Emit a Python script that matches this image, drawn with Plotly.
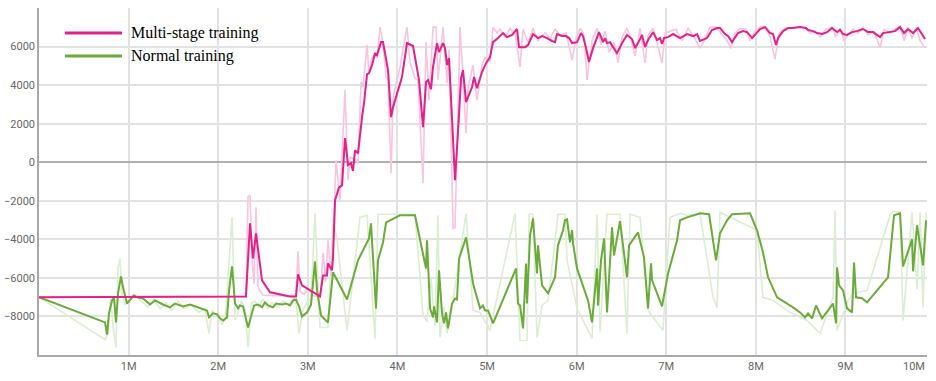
import plotly.graph_objects as go

# ---------------- data (x in millions of steps) ----------------
ms_x = [0, 1.0, 2.0, 2.31, 2.355, 2.388, 2.422, 2.489, 2.578, 2.801, 2.868, 2.891, 2.935, 3.025, 3.080,
        3.136, 3.170, 3.214, 3.225, 3.270, 3.281, 3.304, 3.348, 3.382, 3.415, 3.449, 3.482, 3.504, 3.527,
        3.560, 3.605, 3.627, 3.661, 3.683, 3.717, 3.750, 3.772, 3.817, 3.839, 3.895, 3.929, 3.951, 4.051,
        4.107, 4.174, 4.208, 4.241, 4.286, 4.319, 4.342, 4.375, 4.397, 4.442, 4.464, 4.509, 4.531, 4.554,
        4.576, 4.643, 4.688, 4.710, 4.732, 4.766, 4.788, 4.833, 4.855, 4.888, 4.944, 4.989, 5.033, 5.067,
        5.123, 5.179, 5.223, 5.279, 5.335, 5.357, 5.424, 5.458, 5.513, 5.569, 5.614, 5.670, 5.725, 5.759,
        5.781, 5.837, 5.882, 5.915, 5.949, 6.004, 6.049, 6.071, 6.105, 6.138, 6.183, 6.250, 6.295, 6.317,
        6.339, 6.373, 6.406, 6.451, 6.507, 6.562, 6.618, 6.652, 6.685, 6.730, 6.763, 6.797, 6.853, 6.897,
        6.931, 6.953, 6.975, 7.020, 7.076, 7.154, 7.232, 7.299, 7.344, 7.377, 7.455, 7.511, 7.567, 7.600,
        7.656, 7.690, 7.734, 7.768, 7.801, 7.857, 7.902, 7.958, 7.991, 8.047, 8.103, 8.158, 8.192, 8.225,
        8.248, 8.304, 8.359, 8.415, 8.493, 8.560, 8.583, 8.638, 8.683, 8.739, 8.795, 8.850, 8.906, 8.940,
        8.973, 9.018, 9.074, 9.129, 9.196, 9.252, 9.308, 9.386, 9.420, 9.498, 9.554, 9.609, 9.654, 9.699,
        9.754, 9.810, 9.855, 9.888]
ms_y = [-7000, -6990, -6970, -6960, -3170, -4990, -3690, -6130, -6750, -6960, -6960, -5820, -6390, -6650, -6800,
        -6960, -5870, -5870, -5250, -5610, -4940, -1970, -1300, -1200, 1250, -150, -50, -450, 620,
        460, 2340, 3060, 4570, 4620, 5040, 5660, 5560, 6230, 6230, 4780, 2340, 2860, 4420,
        6180, 6030, 5140, 4260, 1820, 4160, 4260, 3790, 4940, 6180, 5710, 6180, 5920, 5040,
        5400, -935, 2540, 4360, 4780, 3120, 3380, 3900, 4420, 3840, 4680, 5140, 5450, 6230,
        6440, 6700, 6490, 6600, 6910, 5970, 5970, 6080, 6650, 6440, 6545, 6440, 6290, 6230,
        6650, 6545, 6545, 6440, 6180, 6230, 6700, 6545, 5920, 5200, 5920, 6750, 6230, 6440,
        6180, 6230, 5970, 5660, 6180, 6600, 6390, 5920, 6180, 6600, 5970, 6340, 6750, 6340,
        6440, 6130, 6440, 6490, 6650, 6440, 6650, 6545, 6650, 6290, 6440, 6860, 6960, 6960,
        6650, 6545, 6230, 6440, 6700, 6800, 6750, 6440, 6600, 6910, 7010, 6700, 6650, 6080,
        6440, 6800, 6960, 6960, 7010, 6960, 6860, 6800, 6700, 6650, 6750, 6960, 6750, 6860,
        6650, 6600, 6750, 6800, 6910, 6750, 6750, 6490, 6700, 6750, 6800, 7010, 6700, 6910,
        6700, 6960, 6650, 6390]

ms_raw_x = [0, 2.31, 2.333, 2.355, 2.377, 2.400, 2.422, 2.444, 2.500, 2.868, 2.891, 2.913, 2.960, 3.000,
            3.050, 3.100, 3.140, 3.170, 3.200, 3.225, 3.260, 3.281, 3.315, 3.359, 3.415, 3.449, 3.471,
            3.527, 3.560, 3.594, 3.616, 3.661, 3.683, 3.717, 3.750, 3.772, 3.806, 3.839, 3.873, 3.895,
            3.929, 3.951, 4.029, 4.107, 4.141, 4.196, 4.230, 4.286, 4.319, 4.353, 4.397, 4.431, 4.453,
            4.509, 4.554, 4.576, 4.621, 4.643, 4.665, 4.699, 4.732, 4.766, 4.788, 4.844, 4.888, 4.944,
            4.978, 5.033, 5.067, 5.112, 5.145, 5.201, 5.257, 5.313, 5.368, 5.402, 5.458, 5.513, 5.569,
            5.647, 5.703, 5.759, 5.815, 5.882, 5.949, 5.993, 6.038, 6.083, 6.116, 6.172, 6.228, 6.272,
            6.317, 6.362, 6.417, 6.462, 6.507, 6.562, 6.607, 6.652, 6.708, 6.763, 6.797, 6.853, 6.897,
            6.953, 6.987, 7.042, 7.109, 7.176, 7.243, 7.310, 7.377, 7.422, 7.489, 7.556, 7.623, 7.679,
            7.723, 7.768, 7.824, 7.891, 7.935, 7.991, 8.047, 8.103, 8.158, 8.214, 8.259, 8.326, 8.404,
            8.493, 8.560, 8.605, 8.661, 8.717, 8.783, 8.850, 8.895, 8.940, 8.984, 9.029, 9.085, 9.141,
            9.196, 9.252, 9.319, 9.386, 9.431, 9.498, 9.554, 9.609, 9.654, 9.699, 9.743, 9.788, 9.833,
            9.888]
ms_raw_y = [-7000, -6960, -1800, -1710, -5000, -6300, -2340, -6500, -6900, -6950, -4620, -6700, -6850, -6550,
            -6900, -6950, -7000, -4700, -6200, -4050, -5900, -4300, 100, -1970, 3740, -935, 260,
            160, -50, 4160, 3900, 6080, 4620, 5450, 5560, 5400, 7010, 6180, 4420, 4260,
            -570, 3380, 4940, 7010, 5200, 4360, 4260, -1090, 6230, 3220, 7010, 7010, 4260,
            7010, 4100, 5820, -3430, -3400, 620, 7010, 4360, 1500, 3840, 5040, 3220, 5040,
            5450, 5200, 7010, 6700, 6900, 6500, 6950, 6700, 4940, 6900, 6200, 6950, 6300,
            6700, 6400, 6900, 6600, 6700, 5300, 6400, 6950, 6600, 4260, 6300, 6950, 6100,
            6800, 5700, 6200, 5150, 6500, 6950, 6400, 5500, 6950, 5140, 6600, 6950, 6200,
            5140, 6700, 6800, 6900, 6300, 6950, 6500, 5920, 6300, 7000, 7000, 6600, 6300,
            5900, 6700, 6950, 6900, 6300, 6800, 7000, 7050, 6500, 5350, 6700, 6950, 7000,
            7000, 6950, 6700, 6800, 6500, 6900, 7000, 6500, 6950, 6300, 6600, 6900, 6700,
            7000, 6600, 6800, 5920, 6900, 6700, 6900, 7050, 6300, 7000, 6400, 7000, 6300,
            5920]

nt_x = [0, 0.737, 0.759, 0.781, 0.815, 0.837, 0.859, 0.882, 0.915, 0.938, 0.982, 1.016, 1.060, 1.094,
        1.161, 1.239, 1.295, 1.384, 1.462, 1.518, 1.607, 1.685, 1.797, 1.875, 1.897, 1.942, 1.987, 2.020,
        2.054, 2.098, 2.121, 2.154, 2.188, 2.221, 2.243, 2.277, 2.333, 2.366, 2.400, 2.444, 2.489, 2.522,
        2.556, 2.612, 2.645, 2.712, 2.757, 2.801, 2.835, 2.868, 2.902, 2.935, 2.991, 3.036, 3.080, 3.103,
        3.147, 3.225, 3.281, 3.438, 3.560, 3.683, 3.705, 3.761, 3.783, 3.839, 3.873, 4.029, 4.196, 4.319,
        4.330, 4.364, 4.397, 4.408, 4.442, 4.464, 4.498, 4.520, 4.542, 4.565, 4.609, 4.643, 4.665, 4.688,
        4.766, 4.844, 4.922, 4.955, 4.978, 5.011, 5.067, 5.324, 5.346, 5.368, 5.402, 5.435, 5.446, 5.480,
        5.513, 5.558, 5.569, 5.614, 5.681, 5.759, 5.792, 5.848, 5.871, 5.893, 5.926, 5.949, 5.960, 6.004,
        6.127, 6.172, 6.228, 6.239, 6.272, 6.306, 6.339, 6.395, 6.417, 6.484, 6.562, 6.585, 6.685, 6.752,
        6.797, 6.830, 6.842, 6.953, 7.020, 7.121, 7.154, 7.232, 7.377, 7.478, 7.556, 7.600, 7.679, 7.734,
        7.935, 8.013, 8.080, 8.136, 8.237, 8.415, 8.493, 8.549, 8.583, 8.627, 8.672, 8.739, 8.862, 8.895,
        8.906, 8.929, 8.973, 9.018, 9.074, 9.096, 9.118, 9.185, 9.241, 9.475, 9.509, 9.542, 9.609, 9.643,
        9.743, 9.754, 9.799, 9.866, 9.900]
nt_y = [-7000, -8310, -8940, -7840, -7170, -7010, -8310, -6800, -5920, -6490, -7330, -7170, -6910, -7010,
        -7070, -7380, -7170, -7380, -7530, -7330, -7480, -7380, -7580, -7690, -8050, -7840, -7890, -8100,
        -8210, -8050, -6650, -5400, -7330, -7580, -7430, -7480, -8570, -7950, -7430, -7380, -7530, -7270,
        -7430, -7530, -7330, -7380, -7330, -7430, -7170, -7120, -7480, -8000, -7790, -7380, -5140, -6650,
        -7950, -8310, -5710, -7120, -5090, -3950, -3170, -7580, -5090, -4160, -3120, -2750, -2750, -5510,
        -4050, -7580, -8050, -7480, -8310, -5610, -7840, -8360, -7790, -8620, -7330, -7070, -7120, -4990,
        -3900, -6290, -7580, -7430, -7690, -7690, -8360, -5510, -7330, -7430, -8620, -5250, -7330, -3790,
        -2910, -5770, -4310, -6390, -6800, -5970, -4310, -3530, -3010, -2960, -4160, -3530, -4210, -5510,
        -7170, -8310, -5510, -7430, -5090, -3950, -7790, -3380, -4830, -3060, -5970, -4310, -3640, -4940,
        -7580, -5250, -6130, -7480, -5770, -4050, -3010, -2860, -2650, -2700, -5090, -3690, -3010, -2700,
        -2650, -3530, -4680, -5970, -7010, -7530, -7790, -8050, -7840, -8100, -7430, -8100, -7330, -8360,
        -5460, -6390, -6650, -7580, -7790, -5200, -7010, -7060, -7270, -5970, -4420, -2750, -2650, -5400,
        -4000, -5660, -3270, -5350, -3010]

nt_raw_x = [0, 0.737, 0.770, 0.800, 0.826, 0.859, 0.882, 0.904, 0.927, 0.960, 1.00, 1.05, 1.10, 1.16,
            1.22, 1.28, 1.35, 1.42, 1.48, 1.55, 1.62, 1.70, 1.78, 1.85, 1.897, 1.93, 1.99, 2.04, 2.08,
            2.121, 2.154, 2.188, 2.221, 2.26, 2.30, 2.333, 2.37, 2.41, 2.45, 2.50, 2.55, 2.60, 2.66,
            2.72, 2.78, 2.84, 2.87, 2.902, 2.95, 3.00, 3.036, 3.080, 3.136, 3.225, 3.281, 3.326, 3.438,
            3.583, 3.661, 3.750, 3.783, 4.029, 4.196, 4.286, 4.330, 4.375, 4.420, 4.453, 4.475, 4.52,
            4.554, 4.60, 4.676, 4.766, 4.844, 4.922, 5.033, 5.290, 5.313, 5.368, 5.446, 5.469, 5.513,
            5.558, 5.614, 5.681, 5.792, 5.871, 5.893, 6.004, 6.172, 6.228, 6.261, 6.339, 6.428, 6.484,
            6.562, 6.596, 6.708, 6.797, 6.964, 7.042, 7.154, 7.232, 7.377, 7.522, 7.567, 7.600, 8.013,
            8.080, 8.192, 8.382, 8.571, 8.717, 8.862, 8.884, 8.906, 9.029, 9.085, 9.241, 9.498, 9.531,
            9.609, 9.643, 9.743, 9.799, 9.833, 9.866, 9.900]
nt_raw_y = [-7000, -9200, -8900, -7000, -8500, -9600, -5500, -5000, -6800, -7400, -7100, -6900, -7000, -7300,
            -7500, -7100, -7600, -7300, -7700, -7200, -7600, -7400, -7800, -7600, -8880, -7700, -8000, -8400, -8100,
            -5000, -2860, -8200, -7800, -7200, -7600, -9600, -7300, -7200, -7500, -7100, -7600, -7300, -7500,
            -7200, -7400, -7000, -7300, -8880, -7600, -7200, -7100, -2650, -8570, -8570, -2910, -4000, -8730,
            -2860, -2750, -9140, -2700, -2700, -2700, -7950, -8260, -6000, -8500, -2750, -9090, -7500,
            -8880, -7800, -5510, -2650, -7690, -7790, -8730, -3170, -2650, -9250, -9250, -2700, -2700,
            -9090, -7430, -7170, -2700, -2700, -5090, -7580, -9140, -2700, -8780, -2700, -2700, -2700,
            -8880, -2700, -2860, -7690, -8730, -2860, -2650, -2750, -2700, -7000, -7530, -2600, -3530,
            -7010, -7170, -7790, -8210, -8880, -7010, -2490, -8730, -7170, -6800, -6650, -2750, -2550,
            -2600, -8210, -2600, -6600, -2600, -7530, -2600]

series_names = ["Multi-stage training", "Normal training"]
x_tick_vals = [1, 2, 3, 4, 5, 6, 7, 8, 9]
x_tick_text = ["1M", "2M", "3M", "4M", "5M", "6M", "7M", "8M", "9M", "10M"]
y_tick_vals = [-8000, -6000, -4000, -2000, 0, 2000, 4000, 6000]

PINK, PINK_L = "#e4208a", "#f9c4de"
GREEN, GREEN_L = "#6aab39", "#dbeed1"

fig = go.Figure()
fig.add_trace(go.Scatter(x=nt_raw_x, y=nt_raw_y, mode="lines", line=dict(color=GREEN_L, width=1.6),
                         showlegend=False, hoverinfo="skip"))
fig.add_trace(go.Scatter(x=ms_raw_x, y=ms_raw_y, mode="lines", line=dict(color=PINK_L, width=1.6),
                         showlegend=False, hoverinfo="skip"))
fig.add_trace(go.Scatter(x=nt_x, y=nt_y, mode="lines", name=series_names[1],
                         line=dict(color=GREEN, width=2), showlegend=False))
fig.add_trace(go.Scatter(x=ms_x, y=ms_y, mode="lines", name=series_names[0],
                         line=dict(color=PINK, width=2), showlegend=False))

# plot area at 39..927 x 8..355 (page body margin is removed by the post script)
W, H = 936, 381
L, R, T, B = 39, 927, 8, 355
def px(xp):
    return (xp - L) / (R - L)
def py(yp):
    return (B - yp) / (B - T)

for i, (col, ypix) in enumerate([(PINK, 33), (GREEN, 56)]):
    fig.add_shape(type="line", xref="paper", yref="paper", x0=px(65), x1=px(122), y0=py(ypix), y1=py(ypix),
                  line=dict(color=col, width=3))
    fig.add_annotation(xref="paper", yref="paper", x=px(129), y=py(ypix), xanchor="left", yanchor="middle",
                       text=series_names[i], showarrow=False,
                       font=dict(family="Liberation Serif", size=16, color="#000"))

fig.add_annotation(xref="paper", yref="paper", x=1.0, y=0, xanchor="right", yanchor="top", yshift=-3,
                   text=x_tick_text[-1], showarrow=False,
                   font=dict(family="Roboto", size=11, color="#666"))

fig.update_layout(
    width=W, height=H,
    margin=dict(l=L, r=W - R, t=T, b=H - B, autoexpand=False),
    paper_bgcolor="white", plot_bgcolor="white",
    font=dict(family="Roboto", size=11, color="#666"),
)
fig.update_xaxes(range=[0, 9.91], tickvals=x_tick_vals, ticktext=x_tick_text[:-1], automargin=False,
                 showgrid=True, gridcolor="#e2e2e2", gridwidth=1.5,
                 showline=True, linecolor="#a8a8a8", linewidth=1.5,
                 zeroline=False, ticks="", tickfont=dict(size=11, color="#666"))
fig.update_yaxes(range=[-10000, 8000], tickvals=y_tick_vals, automargin=False,
                 showgrid=True, gridcolor="#e2e2e2", gridwidth=1.5,
                 showline=True, linecolor="#a8a8a8", linewidth=1.5,
                 zeroline=True, zerolinecolor="#b0b0b0", zerolinewidth=1.5,
                 ticks="", tickfont=dict(size=11, color="#666"))

fig.write_html("out.html", config={"displayModeBar": False},
               post_script="document.body.style.margin='0px';")
